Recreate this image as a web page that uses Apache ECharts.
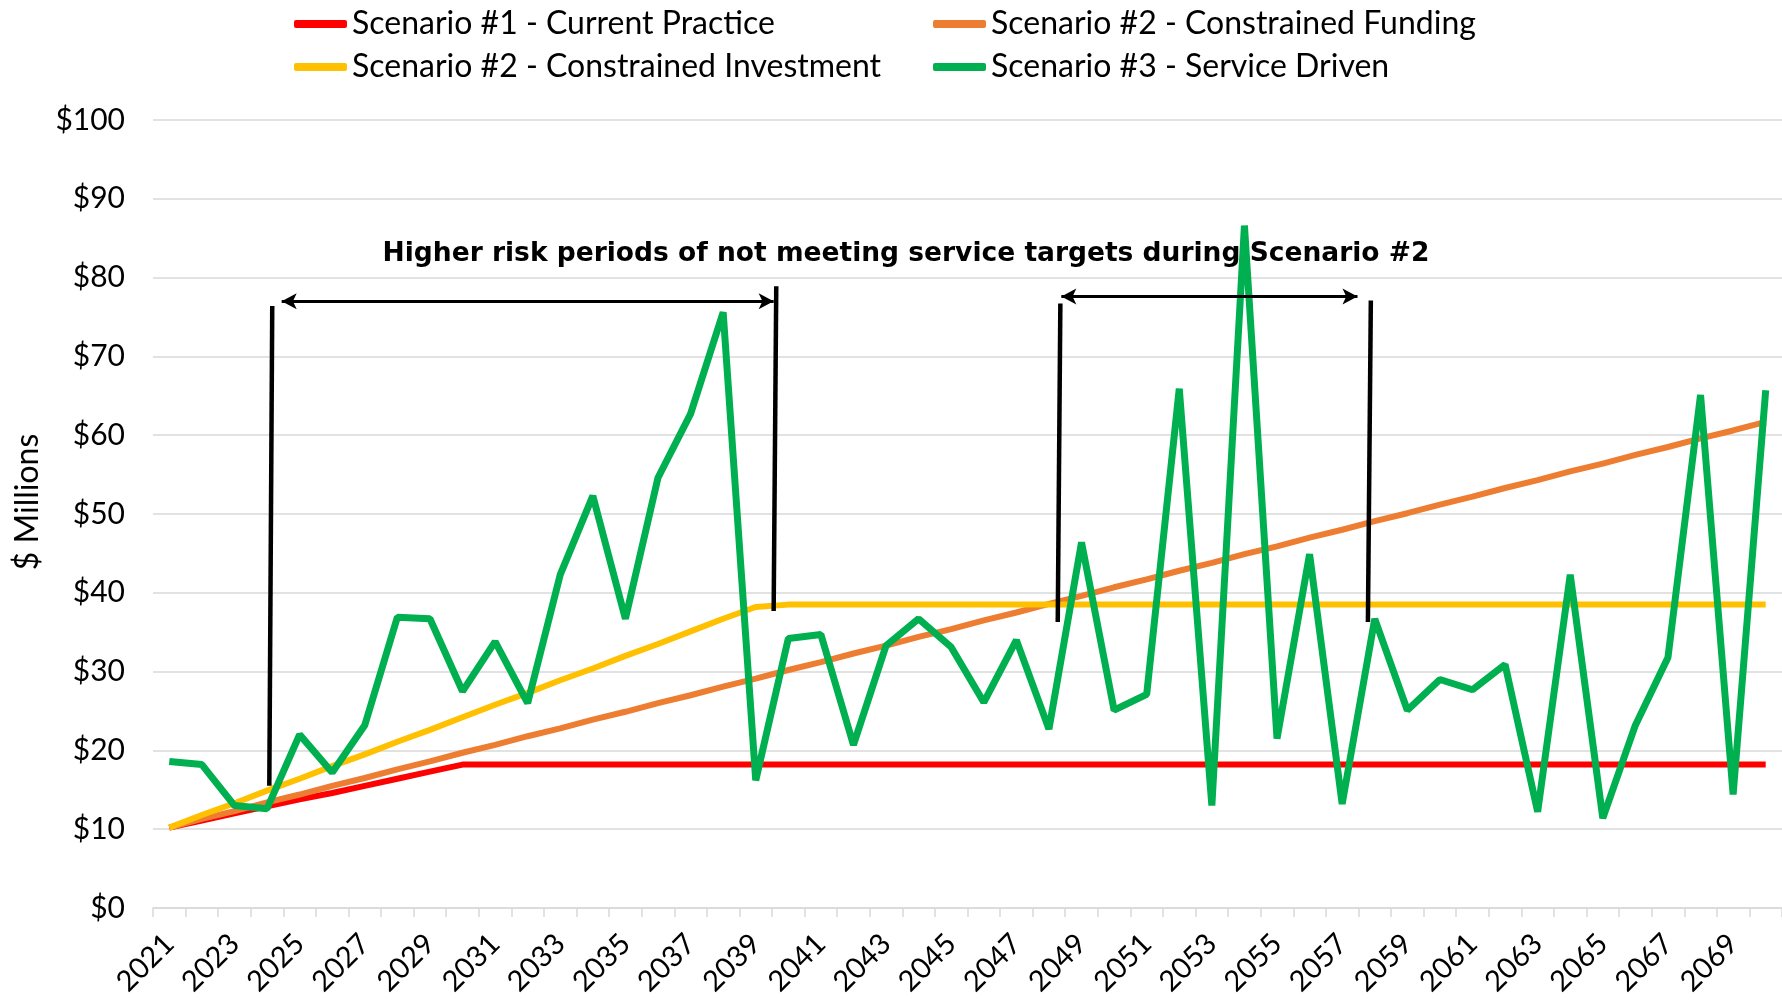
<!DOCTYPE html>
<html>
<head>
<meta charset="utf-8">
<script src="https://cdn.jsdelivr.net/npm/echarts@6/dist/echarts.min.js"></script>
<style>
  html, body { margin: 0; padding: 0; background: #fff; }
  #chart { width: 1782px; height: 1001px; }
</style>
</head>
<body>
<div id="chart"></div>
<script>
// years on the x axis
const years = [
  '2021','2022','2023','2024','2025','2026','2027','2028','2029','2030',
  '2031','2032','2033','2034','2035','2036','2037','2038','2039','2040',
  '2041','2042','2043','2044','2045','2046','2047','2048','2049','2050',
  '2051','2052','2053','2054','2055','2056','2057','2058','2059','2060',
  '2061','2062','2063','2064','2065','2066','2067','2068','2069','2070'
];

// $ millions
const currentPractice = [
  10.2, 11.1, 12.0, 12.9, 13.8, 14.6, 15.5, 16.4, 17.3, 18.2,
  18.2, 18.2, 18.2, 18.2, 18.2, 18.2, 18.2, 18.2, 18.2, 18.2,
  18.2, 18.2, 18.2, 18.2, 18.2, 18.2, 18.2, 18.2, 18.2, 18.2,
  18.2, 18.2, 18.2, 18.2, 18.2, 18.2, 18.2, 18.2, 18.2, 18.2,
  18.2, 18.2, 18.2, 18.2, 18.2, 18.2, 18.2, 18.2, 18.2, 18.2
];
const constrainedFunding = [
  10.2, 11.3, 12.3, 13.4, 14.4, 15.5, 16.5, 17.6, 18.6, 19.7,
  20.7, 21.8, 22.8, 23.9, 24.9, 26.0, 27.0, 28.1, 29.1, 30.2,
  31.2, 32.3, 33.3, 34.4, 35.4, 36.5, 37.5, 38.6, 39.6, 40.7,
  41.7, 42.8, 43.8, 44.9, 45.9, 47.0, 48.0, 49.1, 50.1, 51.2,
  52.2, 53.3, 54.3, 55.4, 56.4, 57.5, 58.5, 59.6, 60.6, 61.7
];
const constrainedInvestment = [
  10.2, 11.8, 13.3, 14.9, 16.4, 18.0, 19.5, 21.1, 22.6, 24.2,
  25.8, 27.3, 28.9, 30.4, 32.0, 33.5, 35.1, 36.7, 38.2, 38.5,
  38.5, 38.5, 38.5, 38.5, 38.5, 38.5, 38.5, 38.5, 38.5, 38.5,
  38.5, 38.5, 38.5, 38.5, 38.5, 38.5, 38.5, 38.5, 38.5, 38.5,
  38.5, 38.5, 38.5, 38.5, 38.5, 38.5, 38.5, 38.5, 38.5, 38.5
];
const serviceDriven = [
  18.6, 18.2, 13.0, 12.6, 22.0, 17.2, 23.2, 36.9, 36.7, 27.5,
  33.8, 26.0, 42.3, 52.3, 36.7, 54.6, 62.7, 75.6, 16.2, 34.2,
  34.7, 20.7, 33.3, 36.7, 33.1, 26.1, 34.0, 22.7, 46.4, 25.1,
  27.1, 65.9, 13.0, 86.6, 21.5, 44.9, 13.2, 36.7, 25.1, 29.0,
  27.7, 30.9, 12.2, 42.3, 11.4, 23.2, 31.8, 65.1, 14.4, 65.7
];

const names = [
  'Scenario #1 - Current Practice',
  'Scenario #2 - Constrained Funding',
  'Scenario #2 - Constrained Investment',
  'Scenario #3 - Service Driven'
];
const yTicks = [0, 10, 20, 30, 40, 50, 60, 70, 80, 90, 100];

const FONT = 'Lato, "Noto Sans", sans-serif';
const chart = echarts.init(document.getElementById('chart'));

const legendText = { fontFamily: FONT, fontSize: 32, color: '#000', lineHeight: 36 };
const blackLine = { color: '#000', width: 4.5, type: 'solid' };

chart.setOption({
  animation: false,
  backgroundColor: '#fff',
  grid: { left: 153, right: -2, top: 120, bottom: 93, containLabel: false },
  legend: [
    {
      data: [names[0], names[2]], orient: 'vertical', left: 289, top: 1,
      itemGap: 7, itemWidth: 53, itemHeight: 8, icon: 'roundRect',
      textStyle: legendText
    },
    {
      data: [names[1], names[3]], orient: 'vertical', left: 928, top: 1,
      itemGap: 7, itemWidth: 53, itemHeight: 8, icon: 'roundRect',
      textStyle: legendText
    }
  ],
  xAxis: [
    {
      type: 'category',
      data: years,
      boundaryGap: true,
      axisLine: { lineStyle: { color: '#d9d9d9', width: 1.5 } },
      axisTick: { show: true, interval: 0, length: 9, lineStyle: { color: '#d9d9d9', width: 1.5 } },
      axisLabel: { interval: 1, rotate: 45, margin: 31, fontFamily: FONT, fontSize: 29, color: '#000' }
    },
    { type: 'value', min: -0.5, max: 49.5, show: false }
  ],
  yAxis: {
    type: 'value',
    min: yTicks[0], max: yTicks[yTicks.length - 1], interval: 10,
    axisLine: { show: false },
    axisTick: { show: false },
    splitLine: { lineStyle: { color: '#d9d9d9', width: 1.5 } },
    axisLabel: { margin: 28, fontFamily: FONT, fontSize: 30, color: '#000', formatter: v => '$' + v }
  },
  graphic: [
    {
      type: 'text', x: 906, y: 254, z: 0,
      style: {
        text: 'Higher risk periods of not meeting service targets during Scenario #2',
        font: 'bold 26.5px "DejaVu Sans", "Open Sans", sans-serif',
        fill: '#000', align: 'center', verticalAlign: 'middle'
      }
    },
    {
      type: 'text', x: 28, y: 502, rotation: Math.PI / 2, z: 0,
      style: {
        text: '$ Millions',
        font: '32px Lato, "Noto Sans", sans-serif',
        fill: '#000', align: 'center', verticalAlign: 'middle'
      }
    }
  ],
  series: [
    {
      type: 'line', xAxisIndex: 1, data: [], z: 1, silent: true,
      markLine: {
        silent: true,
        symbol: 'none',
        label: { show: false },
        lineStyle: blackLine,
        data: [
          [{ coord: [3.16, 76.4] }, { coord: [3.07, 15.5] }],
          [{ coord: [18.63, 78.9] }, { coord: [18.55, 37.7] }],
          [{ coord: [27.35, 76.7] }, { coord: [27.27, 36.3] }],
          [{ coord: [36.88, 77.1] }, { coord: [36.79, 36.3] }],
          [
            { coord: [3.45, 77.0], symbol: 'arrow', symbolSize: [12, 15] },
            { coord: [18.55, 77.0], symbol: 'arrow', symbolSize: [12, 15], lineStyle: { color: '#000', width: 2.8 } }
          ],
          [
            { coord: [27.38, 77.6], symbol: 'arrow', symbolSize: [12, 15] },
            { coord: [36.47, 77.6], symbol: 'arrow', symbolSize: [12, 15], lineStyle: { color: '#000', width: 2.8 } }
          ]
        ]
      }
    },
    {
      name: names[0], type: 'line', data: currentPractice, symbol: 'none',
      lineStyle: { color: '#ff0000', width: 6 }, itemStyle: { color: '#ff0000' }
    },
    {
      name: names[1], type: 'line', data: constrainedFunding, symbol: 'none',
      lineStyle: { color: '#ed7d31', width: 6 }, itemStyle: { color: '#ed7d31' }
    },
    {
      name: names[2], type: 'line', data: constrainedInvestment, symbol: 'none',
      lineStyle: { color: '#ffc000', width: 6 }, itemStyle: { color: '#ffc000' }
    },
    {
      name: names[3], type: 'line', data: serviceDriven, symbol: 'none',
      lineStyle: { color: '#00b050', width: 7 }, itemStyle: { color: '#00b050' }
    }
  ]
});
</script>
</body>
</html>
